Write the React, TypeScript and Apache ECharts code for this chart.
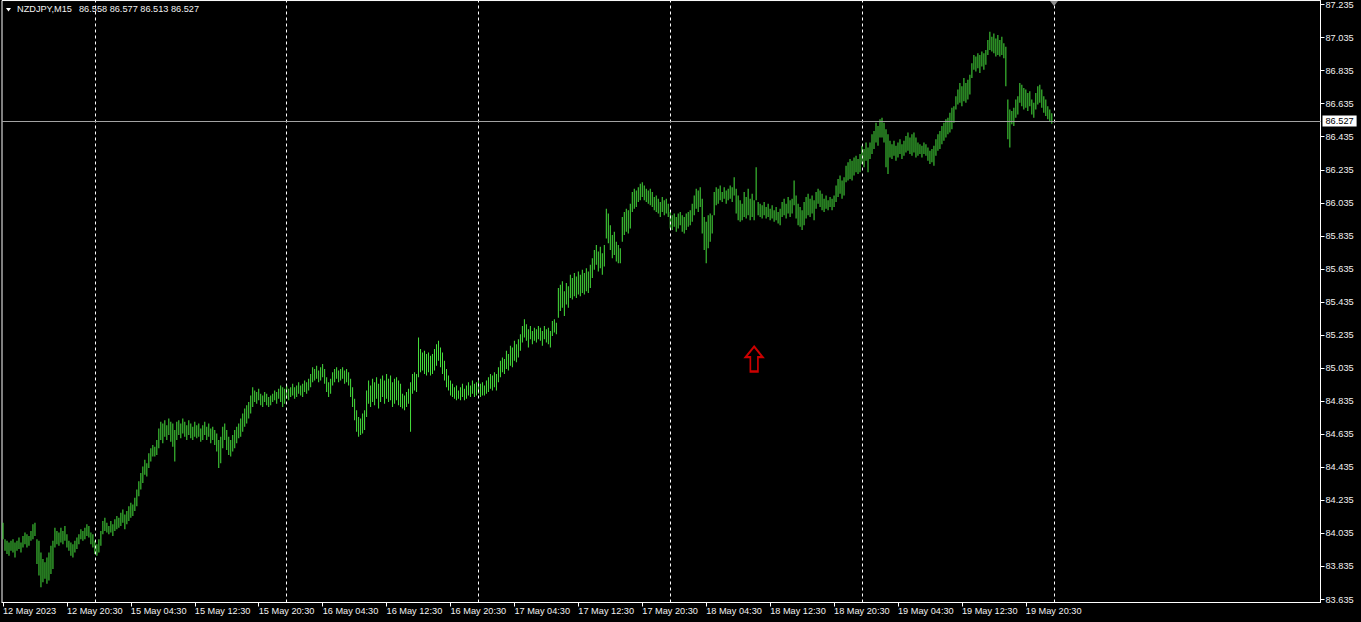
import React, { useEffect, useRef } from "react";
import * as echarts from "echarts";

// ---- chart data ----
const symbolName = "NZDJPY,M15";
const lastBarOHLC = [86.558, 86.577, 86.513, 86.527];

const xTickLabels = [
  "12 May 2023", "12 May 20:30", "15 May 04:30", "15 May 12:30", "15 May 20:30",
  "16 May 04:30", "16 May 12:30", "16 May 20:30", "17 May 04:30", "17 May 12:30",
  "17 May 20:30", "18 May 04:30", "18 May 12:30", "18 May 20:30", "19 May 04:30",
  "19 May 12:30", "19 May 20:30",
];
const barsPerLabel = 32; // 8 hours of M15 bars
const totalSlots = 660; // includes chart shift space on the right
const dayStartIndex = [46, 142, 238, 334, 430, 526];

const yTickValues = [
  83.635, 83.835, 84.035, 84.235, 84.435, 84.635, 84.835, 85.035, 85.235, 85.435,
  85.635, 85.835, 86.035, 86.235, 86.435, 86.635, 86.835, 87.035, 87.235,
];
const yMin = 83.617;
const yMax = 87.259;

const arrowMark = { index: 376, price: 85.09 };

// 12 May (from 12:30)
const d0High = [84.10,84.00,83.99,83.98,83.99,84.00,83.98,83.99,84.01,83.98,84.02,84.04,84.03,84.02,84.05,84.09,84.10,84.00,83.99,83.92,83.88,83.86,83.89,83.92,83.96,83.99,84.07,84.05,84.04,84.07,84.05,84.08,84.03,83.99,83.98,83.97,83.99,84.01,84.03,84.06,84.05,84.07,84.09,84.08,84.04,84.03];
const d0Low = [84.00,83.93,83.91,83.90,83.93,83.92,83.89,83.93,83.94,83.92,83.95,83.97,83.95,83.96,83.99,84.00,84.02,83.85,83.78,83.71,83.74,83.76,83.73,83.75,83.79,83.82,83.95,83.97,83.96,83.98,83.97,83.99,83.95,83.93,83.90,83.89,83.92,83.94,83.97,84.00,83.99,84.00,84.02,84.01,83.97,83.95];

// 15 May
const d1High = [83.99,83.97,84.00,84.05,84.11,84.13,84.10,84.08,84.11,84.09,84.12,84.14,84.13,84.16,84.18,84.15,84.17,84.20,84.22,84.21,84.25,84.30,84.35,84.40,84.44,84.48,84.46,84.52,84.55,84.57,84.56,84.60,84.67,84.71,84.70,84.72,84.69,84.73,84.71,84.70,84.66,84.71,84.72,84.70,84.73,84.71,84.69,84.72,84.70,84.68,84.71,84.69,84.70,84.67,84.69,84.71,84.68,84.70,84.67,84.68,84.66,84.64,84.60,84.62,84.68,84.70,84.66,84.62,84.60,84.63,84.66,84.68,84.70,84.73,84.76,84.79,84.81,84.83,84.87,84.92,84.90,84.89,84.91,84.88,84.87,84.89,84.88,84.86,84.87,84.88,84.90,84.89,84.91,84.93,84.92,84.91];
const d1Low = [83.91,83.90,83.92,83.96,84.03,84.05,84.04,84.03,84.04,84.02,84.05,84.06,84.07,84.08,84.10,84.06,84.09,84.11,84.13,84.14,84.17,84.20,84.26,84.30,84.34,84.39,84.38,84.43,84.47,84.50,84.50,84.51,84.55,84.60,84.58,84.62,84.60,84.63,84.59,84.56,84.47,84.60,84.63,84.61,84.64,84.62,84.60,84.63,84.61,84.60,84.62,84.61,84.62,84.59,84.60,84.63,84.60,84.62,84.58,84.60,84.57,84.53,84.43,84.46,84.55,84.60,84.54,84.51,84.50,84.53,84.55,84.58,84.61,84.62,84.65,84.68,84.70,84.73,84.76,84.80,84.83,84.82,84.84,84.81,84.80,84.83,84.81,84.80,84.81,84.83,84.84,84.82,84.85,84.83,84.80,84.82];

// 16 May
const d2High = [84.93,84.91,84.92,84.94,84.92,84.93,84.95,84.93,84.94,84.96,84.95,84.97,85.00,85.04,85.03,85.05,85.02,85.04,85.06,85.03,84.98,84.95,84.97,85.01,85.03,85.04,85.02,85.03,85.04,85.02,85.03,85.01,84.97,84.92,84.85,84.78,84.74,84.73,84.76,84.78,84.90,84.96,84.93,84.97,84.95,84.98,84.94,84.97,84.99,84.96,85.00,84.97,84.99,84.95,84.97,84.98,84.96,84.94,84.88,84.87,84.89,84.91,84.95,85.00,85.01,85.00,85.22,85.15,85.13,85.14,85.12,85.13,85.11,85.12,85.15,85.18,85.20,85.16,85.13,85.08,85.03,84.99,84.96,84.94,84.92,84.93,84.90,84.92,84.94,84.91,84.93,84.95,84.93,84.96,84.94,84.95];
const d2Low = [84.85,84.84,84.86,84.87,84.85,84.86,84.88,84.87,84.86,84.89,84.88,84.90,84.92,84.95,84.96,84.97,84.95,84.96,84.98,84.94,84.89,84.86,84.88,84.93,84.95,84.97,84.95,84.96,84.97,84.94,84.95,84.93,84.86,84.80,84.72,84.65,84.62,84.63,84.64,84.66,84.74,84.82,84.80,84.83,84.81,84.85,84.79,84.83,84.86,84.82,84.85,84.83,84.84,84.80,84.82,84.84,84.81,84.80,84.79,84.78,84.80,84.82,84.65,84.88,84.90,84.89,84.98,85.01,85.02,85.00,84.99,85.01,84.99,85.00,85.02,85.05,85.08,85.04,85.00,84.96,84.92,84.90,84.87,84.86,84.85,84.84,84.85,84.84,84.86,84.84,84.85,84.87,84.86,84.88,84.86,84.87];

// 17 May
const d3High = [84.96,84.94,84.95,84.93,84.96,84.98,85.00,84.99,85.01,85.00,85.04,85.08,85.10,85.09,85.14,85.12,85.17,85.16,85.20,85.18,85.21,85.24,85.29,85.33,85.30,85.27,85.29,85.26,85.28,85.27,85.29,85.28,85.26,85.29,85.27,85.28,85.26,85.32,85.33,85.31,85.52,85.54,85.56,85.50,85.55,85.53,85.60,85.58,85.61,85.59,85.62,85.60,85.63,85.61,85.64,85.62,85.66,85.70,85.75,85.78,85.74,85.77,85.73,85.78,86.00,85.97,85.90,85.84,85.86,85.80,85.78,85.76,85.95,85.98,86.00,85.99,86.03,86.10,86.12,86.11,86.13,86.15,86.16,86.14,86.12,86.11,86.12,86.10,86.07,86.08,86.06,86.04,86.07,86.05,86.06,86.03];
const d3Low = [84.88,84.86,84.87,84.87,84.88,84.89,84.91,84.90,84.92,84.90,84.95,84.98,85.01,85.00,85.03,85.02,85.05,85.04,85.08,85.07,85.10,85.14,85.19,85.22,85.20,85.16,85.21,85.18,85.20,85.19,85.21,85.20,85.17,85.21,85.19,85.18,85.16,85.23,85.25,85.24,85.34,85.38,85.40,85.35,85.42,85.40,85.46,85.45,85.47,85.46,85.48,85.47,85.49,85.48,85.50,85.49,85.52,85.58,85.63,85.66,85.62,85.64,85.60,85.65,85.82,85.79,85.75,85.70,85.72,85.68,85.67,85.67,85.80,85.84,85.86,85.85,85.88,85.98,86.00,86.01,86.04,86.05,86.07,86.05,86.04,86.03,86.02,86.01,85.99,85.98,85.97,85.95,85.98,85.96,85.97,85.95];

// 18 May
const d4High = [85.98,85.96,85.97,85.95,85.97,85.98,85.96,85.95,85.97,85.98,85.99,86.03,86.08,86.12,86.11,86.13,86.06,85.95,85.92,85.96,85.97,85.96,86.10,86.13,86.12,86.14,86.10,86.13,86.11,86.12,86.14,86.13,86.19,86.12,86.08,86.05,86.03,86.10,86.07,86.12,86.06,86.09,86.05,86.25,86.04,86.03,86.02,86.04,86.01,86.03,86.00,86.02,85.99,86.01,85.98,86.00,86.04,86.06,86.03,86.07,86.05,86.06,86.17,86.08,86.03,86.01,85.99,86.04,86.07,86.09,86.06,86.08,86.05,86.10,86.12,86.11,86.09,86.06,86.08,86.05,86.07,86.06,86.08,86.14,86.18,86.20,86.17,86.19,86.26,86.28,86.30,86.29,86.31,86.32,86.30,86.33];
const d4Low = [85.88,85.87,85.89,85.86,85.88,85.90,85.86,85.85,85.87,85.89,85.90,85.92,85.96,86.00,85.98,86.01,85.85,85.75,85.67,85.76,85.80,85.85,85.96,86.02,86.03,86.05,86.04,86.06,86.03,86.05,86.06,86.04,86.08,85.97,85.93,85.92,85.93,85.95,85.94,85.96,85.93,85.95,85.93,86.05,85.96,85.95,85.94,85.96,85.94,85.95,85.93,85.94,85.92,85.93,85.91,85.90,85.95,85.96,85.94,85.97,85.95,85.97,86.02,85.94,85.90,85.89,85.87,85.90,85.94,85.96,85.95,85.97,85.93,86.00,86.03,86.01,85.99,85.98,86.00,85.99,86.01,85.99,86.01,86.04,86.07,86.09,86.06,86.08,86.16,86.17,86.18,86.17,86.20,86.22,86.21,86.22];

// 19 May
const d5High = [86.38,86.36,86.40,86.37,86.40,86.45,86.47,86.52,86.50,86.54,86.55,86.52,86.48,86.45,86.41,86.39,86.41,86.38,86.40,86.42,86.39,86.41,86.44,86.46,86.43,86.45,86.46,86.43,86.40,86.39,86.38,86.40,86.39,86.37,86.35,86.36,86.38,86.42,86.45,86.47,86.50,86.52,86.54,86.55,86.58,86.61,86.62,86.68,86.72,86.76,86.74,86.79,86.76,86.78,86.81,86.88,86.93,86.92,86.94,86.93,86.95,86.94,86.96,87.02,87.07,87.04,87.06,87.03,87.05,87.02,87.04,87.00,86.98,86.66,86.60,86.59,86.61,86.66,86.68,86.76,86.75,86.73,86.72,86.70,86.71,86.66,86.64,86.70,86.74,86.75,86.72,86.68,86.66,86.62,86.60,86.577];
const d5Low = [86.27,86.25,86.29,86.22,86.30,86.33,86.36,86.40,86.38,86.43,86.43,86.40,86.25,86.21,86.31,86.30,86.32,86.29,86.31,86.33,86.30,86.32,86.34,86.35,86.33,86.32,86.34,86.31,86.32,86.33,86.31,86.33,86.32,86.29,86.27,86.28,86.26,86.32,86.35,86.36,86.39,86.41,86.43,86.45,86.46,86.48,86.52,86.60,86.63,86.64,86.62,86.65,86.64,86.66,86.69,86.79,86.84,86.83,86.85,86.82,86.86,86.84,86.87,86.93,86.96,86.95,86.94,86.92,86.93,86.92,86.93,86.91,86.74,86.42,86.37,86.51,86.50,86.55,86.57,86.64,86.62,86.60,86.61,86.59,86.62,86.57,86.55,86.60,86.63,86.64,86.61,86.58,86.56,86.54,86.53,86.513];

const highs = [...d0High, ...d1High, ...d2High, ...d3High, ...d4High, ...d5High];
const lows = [...d0Low, ...d1Low, ...d2Low, ...d3Low, ...d4Low, ...d5Low];

// ---- styling ----
const FONT = '"Liberation Sans", Arial, sans-serif';
const FS = 9.2;
const GREEN = "#46e03c";
const FG = "#f2f2f2";

function buildOption() {
  const categories = Array.from({ length: totalSlots }, (_, i) => String(i));
  const labelAt = (index: number) =>
    index % barsPerLabel === 0 && index / barsPerLabel < xTickLabels.length;
  // stacked bars: invisible base up to the low, visible part from low to high
  const baseData = lows.map((l) => l);
  const rangeData = highs.map((h, i) => +(h - lows[i]).toFixed(4));

  return {
    animation: false,
    backgroundColor: "#000000",
    textStyle: { fontFamily: FONT },
    grid: {
      left: 0.5,
      top: 0.5,
      width: 1320,
      height: 602,
      show: true,
      borderColor: "#ffffff",
      borderWidth: 1,
    },
    xAxis: {
      type: "category",
      data: categories,
      boundaryGap: true,
      axisLine: { show: true, lineStyle: { color: "#ffffff", width: 1 } },
      axisTick: {
        show: true,
        alignWithLabel: true,
        interval: (index: number) => labelAt(index),
        length: 4,
        lineStyle: { color: "#ffffff" },
      },
      axisLabel: {
        show: true,
        interval: (index: number) => labelAt(index),
        formatter: (_v: string, index: number) => xTickLabels[index / barsPerLabel] ?? "",
        align: "left",
        color: FG,
        fontSize: FS,
        fontFamily: FONT,
        margin: 4,
      },
      splitLine: { show: false },
    },
    yAxis: {
      type: "value",
      position: "right",
      min: yMin,
      max: yMax,
      scale: true,
      axisLine: { show: true, lineStyle: { color: "#ffffff", width: 1 } },
      axisTick: {
        show: true,
        length: 4,
        customValues: yTickValues,
        lineStyle: { color: "#ffffff" },
      },
      axisLabel: {
        show: true,
        customValues: yTickValues,
        formatter: (v: number) => v.toFixed(3),
        color: FG,
        fontSize: FS,
        fontFamily: FONT,
        margin: 5,
      },
      splitLine: { show: false },
    },
    series: [
      {
        type: "bar",
        name: "base",
        stack: "hl",
        data: baseData,
        barWidth: 1,
        silent: true,
        itemStyle: { color: "rgba(0,0,0,0)" },
        emphasis: { disabled: true },
      },
      {
        type: "bar",
        name: "range",
        stack: "hl",
        data: rangeData,
        barWidth: 1,
        silent: true,
        itemStyle: { color: GREEN },
        emphasis: { disabled: true },
        markLine: {
          silent: true,
          symbol: ["none", "none"],
          animation: false,
          data: [
            ...dayStartIndex.map((i) => ({
              xAxis: String(i),
              lineStyle: { color: "#ffffff", type: [3, 3], width: 1 },
              label: { show: false },
            })),
            {
              yAxis: lastBarOHLC[3],
              lineStyle: { color: "#a3a3a3", type: "solid", width: 1 },
              label: {
                show: true,
                position: "end",
                distance: 2,
                formatter: lastBarOHLC[3].toFixed(3),
                backgroundColor: "#ffffff",
                color: "#000000",
                padding: [1, 3, 1, 3],
                fontSize: FS,
                fontFamily: FONT,
              },
            },
          ],
        },
      },
      {
        type: "scatter",
        name: "arrow",
        data: [[arrowMark.index, arrowMark.price]],
        symbol: "path://M9,0 L18,11 L13,11 L13,26 L5,26 L5,11 L0,11 Z",
        symbolSize: [17, 25],
        itemStyle: { color: "rgba(0,0,0,0)", borderColor: "#ff0000", borderWidth: 2 },
        silent: true,
        z: 5,
      },
    ],
    graphic: [
      {
        type: "polygon",
        shape: { points: [[6, 8], [11, 8], [8.5, 11.5]] },
        style: { fill: "#ffffff" },
        z: 100,
      },
      {
        type: "text",
        x: 17,
        y: 9,
        style: {
          text: symbolName,
          fill: FG,
          fontSize: FS,
          fontFamily: FONT,
          verticalAlign: "middle",
        },
        z: 100,
      },
      {
        type: "text",
        x: 79,
        y: 9,
        style: {
          text: lastBarOHLC.map((v) => v.toFixed(3)).join(" "),
          fill: FG,
          fontSize: FS,
          fontFamily: FONT,
          verticalAlign: "middle",
        },
        z: 100,
      },
      {
        type: "polygon",
        shape: { points: [[1050, 1], [1058, 1], [1054, 6]] },
        style: { fill: "#8c8c8c" },
        z: 100,
      },
    ],
  };
}

export default function App() {
  const ref = useRef<HTMLDivElement>(null);
  useEffect(() => {
    if (!ref.current) return;
    const chart = echarts.init(ref.current, null, { renderer: "svg" });
    chart.setOption(buildOption() as any);
    return () => {
      chart.dispose();
    };
  }, []);
  return (
    <div style={{ position: "fixed", left: 0, top: 0, width: 1361, height: 622, background: "#000" }}>
      <div ref={ref} style={{ width: 1361, height: 622 }} />
    </div>
  );
}
